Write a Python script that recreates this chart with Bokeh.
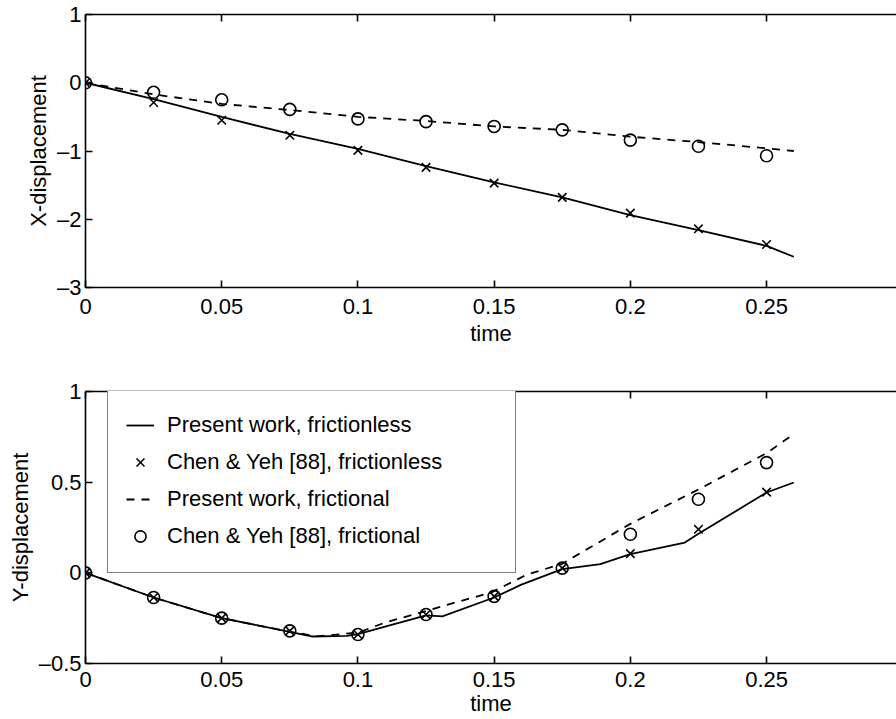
from bokeh.plotting import figure
from bokeh.layouts import column
from bokeh.models import (FixedTicker, CustomJSTickFormatter, LinearAxis, Range1d,
                          Legend, LegendItem)
from bokeh.embed import file_html
from bokeh.resources import INLINE

# ---------------- data ----------------
x_ticks = [0, 0.05, 0.1, 0.15, 0.2, 0.25]
top_y_ticks = [-3, -2, -1, 0, 1]
bot_y_ticks = [-0.5, 0, 0.5, 1]

# reference points (Chen & Yeh [88])
t_ref = [0, 0.025, 0.05, 0.075, 0.1, 0.125, 0.15, 0.175, 0.2, 0.225, 0.25]
xdisp_ref_frictionless = [0, -0.29, -0.55, -0.77, -0.99, -1.24, -1.47, -1.68, -1.91, -2.14, -2.37]
xdisp_ref_frictional = [0, -0.14, -0.25, -0.39, -0.53, -0.57, -0.64, -0.69, -0.84, -0.93, -1.07]
ydisp_ref_frictionless = [0, -0.136, -0.25, -0.32, -0.34, -0.23, -0.13, 0.026, 0.106, 0.24, 0.445]
ydisp_ref_frictional = [0, -0.136, -0.25, -0.32, -0.34, -0.23, -0.13, 0.026, 0.213, 0.406, 0.608]

# present work, X-displacement
t_x_line = [0, 0.025, 0.05, 0.075, 0.1, 0.125, 0.15, 0.175, 0.2, 0.225, 0.25, 0.26]
xdisp_frictionless = [0, -0.24, -0.5, -0.75, -0.97, -1.22, -1.46, -1.68, -1.94, -2.16, -2.39, -2.55]
xdisp_frictional = [0, -0.17, -0.31, -0.40, -0.50, -0.56, -0.64, -0.69, -0.79, -0.87, -0.96, -1.0]

# present work, Y-displacement
t_y_solid = [0, 0.025, 0.05, 0.075, 0.083, 0.096, 0.1, 0.123, 0.125, 0.131, 0.15, 0.16,
             0.175, 0.189, 0.2, 0.22, 0.225, 0.25, 0.26]
ydisp_frictionless = [0, -0.136, -0.25, -0.325, -0.351, -0.348, -0.338, -0.243, -0.235, -0.24,
                      -0.136, -0.065, 0.02, 0.048, 0.103, 0.167, 0.215, 0.443, 0.498]
t_y_dash = [0, 0.025, 0.05, 0.075, 0.085, 0.1, 0.11, 0.123, 0.138, 0.149, 0.162, 0.175,
            0.2, 0.225, 0.25, 0.26]
ydisp_frictional = [0, -0.136, -0.25, -0.325, -0.35, -0.33, -0.274, -0.219, -0.154, -0.108,
                    -0.01, 0.05, 0.27, 0.46, 0.66, 0.765]

FONT = "Liberation Sans"
FS = "22px"
LW = 1.6


def fmt():
    return CustomJSTickFormatter(code="return String(tick).replace('-', '\u2013');")


def make_fig(height, top, bottom, yr, yticks, ylabel, ystand, xstand, xlstand):
    p = figure(width=896, height=height, x_range=Range1d(0, 0.2977), y_range=Range1d(*yr),
               output_backend="svg", toolbar_location=None,
               min_border_left=85, min_border_right=0, min_border_top=top,
               min_border_bottom=bottom)
    p.outline_line_color = None
    p.grid.visible = False
    p.background_fill_color = "white"
    p.border_fill_color = "white"
    for ax in (p.xaxis[0], p.yaxis[0]):
        ax.axis_line_width = LW
        ax.major_tick_line_width = LW
        ax.major_tick_in = 7
        ax.major_tick_out = 0
        ax.minor_tick_line_color = None
        ax.major_label_text_font = FONT
        ax.major_label_text_font_size = FS
        ax.major_label_text_color = "black"
        ax.axis_label_text_font = FONT
        ax.axis_label_text_font_size = FS
        ax.axis_label_text_font_style = "normal"
        ax.axis_label_text_color = "black"
        ax.formatter = fmt()
    p.xaxis.ticker = FixedTicker(ticks=x_ticks)
    p.yaxis.ticker = FixedTicker(ticks=yticks)
    p.xaxis.axis_label = "time"
    p.xaxis.major_label_standoff = xstand
    p.xaxis.axis_label_standoff = xlstand
    p.yaxis.axis_label = ylabel
    p.yaxis.major_label_standoff = 4
    p.yaxis.axis_label_standoff = ystand
    top_ax = LinearAxis(ticker=FixedTicker(ticks=x_ticks), axis_line_width=LW,
                        major_tick_line_width=LW, major_tick_in=7, major_tick_out=0,
                        minor_tick_line_color=None, major_label_text_font_size="1px",
                        major_label_text_color=None, major_label_standoff=0)
    p.add_layout(top_ax, "above")
    return p


p1 = make_fig(360, 14, 73, (-3, 1), top_y_ticks, "X-displacement", 3, 11, 4)
p1.line(t_x_line, xdisp_frictionless, line_color="black", line_width=1.8)
p1.line(t_x_line, xdisp_frictional, line_color="black", line_width=1.8, line_dash="8 7")
p1.scatter(t_ref, xdisp_ref_frictionless, marker="x", size=12, line_color="black", line_width=1.6)
p1.scatter(t_ref, xdisp_ref_frictional, marker="circle", size=12, line_color="black",
           fill_color=None, line_width=1.6)

p2 = make_fig(359, 31, 56, (-0.5, 1), bot_y_ticks, "Y-displacement", 3, 8, 1)
r1 = p2.line(t_y_solid, ydisp_frictionless, line_color="black", line_width=1.8)
r2 = p2.scatter(t_ref, ydisp_ref_frictionless, marker="x", size=12, line_color="black", line_width=1.6)
r3 = p2.line(t_y_dash, ydisp_frictional, line_color="black", line_width=1.8, line_dash="8 7")
r4 = p2.scatter(t_ref, ydisp_ref_frictional, marker="circle", size=12, line_color="black",
                fill_color=None, line_width=1.6)

legend = Legend(items=[LegendItem(label="Present work, frictionless", renderers=[r1]),
                       LegendItem(label="Chen & Yeh [88], frictionless", renderers=[r2]),
                       LegendItem(label="Present work, frictional", renderers=[r3]),
                       LegendItem(label="Chen & Yeh [88], frictional", renderers=[r4])],
                location=(22, 90), border_line_color="black", border_line_width=1.3,
                background_fill_color="white", background_fill_alpha=1.0,
                padding=18, spacing=1, glyph_width=28, glyph_height=36, label_height=36,
                label_width=330, label_standoff=13, label_text_font=FONT,
                label_text_font_size=FS, label_text_color="black", margin=0)
p2.add_layout(legend)

layout = column(p1, p2, spacing=0)
open("out.html", "w").write(file_html(layout, INLINE))
